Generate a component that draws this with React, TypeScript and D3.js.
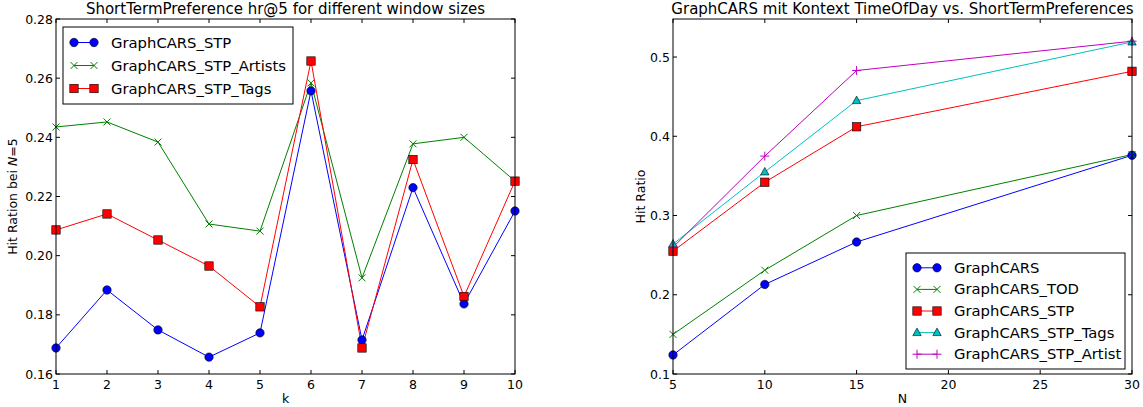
import * as d3 from 'd3';

const kValues = [1, 2, 3, 4, 5, 6, 7, 8, 9, 10];
const stp = [0.1688, 0.1884, 0.1749, 0.1657, 0.1739, 0.2557, 0.1715, 0.2230, 0.1837, 0.2151];
const stpArtists = [0.2435, 0.2452, 0.2384, 0.2107, 0.2083, 0.2584, 0.1925, 0.2378, 0.2400, 0.2252];
const stpTags = [0.2087, 0.2141, 0.2053, 0.1965, 0.1827, 0.2658, 0.1688, 0.2325, 0.1862, 0.2252];

const nValues = [5, 10, 15, 30];
const graphCars = [0.124, 0.213, 0.2666, 0.376];
const graphCarsTod = [0.150, 0.231, 0.300, 0.377];
const graphCarsStp = [0.255, 0.342, 0.412, 0.482];
const graphCarsStpTags = [0.264, 0.355, 0.445, 0.519];
const graphCarsStpArtist = [0.260, 0.375, 0.483, 0.520];

const leftXTicks = [1, 2, 3, 4, 5, 6, 7, 8, 9, 10];
const leftYTicks = [0.16, 0.18, 0.2, 0.22, 0.24, 0.26, 0.28];
const rightXTicks = [5, 10, 15, 20, 25, 30];
const rightYTicks = [0.1, 0.2, 0.3, 0.4, 0.5];

const FONT = '"DejaVu Sans", sans-serif';

type MarkerKind = 'circle' | 'x' | 'square' | 'triangle' | 'plus';

function Marker({ kind, x, y, color }: { kind: MarkerKind; x: number; y: number; color: string }) {
  if (kind === 'circle') return <circle cx={x} cy={y} r={4.2} fill={color} stroke="#000" strokeWidth={0.6} />;
  if (kind === 'square')
    return <rect x={x - 4.2} y={y - 4.2} width={8.4} height={8.4} fill={color} stroke="#000" strokeWidth={0.6} />;
  if (kind === 'triangle')
    return <path d={`M${x},${y - 4.5}L${x + 4.2},${y + 3}L${x - 4.2},${y + 3}Z`} fill={color} stroke="#000" strokeWidth={0.6} />;
  if (kind === 'x')
    return <path d={`M${x - 3.5},${y - 3.5}L${x + 3.5},${y + 3.5}M${x - 3.5},${y + 3.5}L${x + 3.5},${y - 3.5}`} stroke={color} strokeWidth={1} />;
  return <path d={`M${x - 4.5},${y}L${x + 4.5},${y}M${x},${y - 4.5}L${x},${y + 4.5}`} stroke={color} strokeWidth={1} />;
}

interface Series {
  name: string;
  values: number[];
  color: string;
  marker: MarkerKind;
}

interface PanelProps {
  x0: number;
  x1: number;
  y0: number;
  y1: number;
  xs: number[];
  xDomain: [number, number];
  yDomain: [number, number];
  xTicks: number[];
  yTicks: number[];
  yFormat: (v: number) => string;
  series: Series[];
  title: string;
  xLabel: string;
  yLabel: React.ReactNode;
  yLabelX: number;
  legend: { x: number; y: number; w: number; rowH: number };
}

function Panel(p: PanelProps) {
  const x = d3.scaleLinear().domain(p.xDomain).range([p.x0, p.x1]);
  const y = d3.scaleLinear().domain(p.yDomain).range([p.y1, p.y0]);
  const line = d3
    .line<number>()
    .x((_, i) => x(p.xs[i]))
    .y((v) => y(v));
  const tl = 4;
  const cx = (p.x0 + p.x1) / 2;
  const cy = (p.y0 + p.y1) / 2;
  const lg = p.legend;
  const lgH = lg.rowH * p.series.length + 8;

  return (
    <g fontFamily={FONT}>
      <text x={cx} y={p.y0 - 5} textAnchor="middle" fontSize={15}>
        {p.title}
      </text>
      {p.series.map((s) => (
        <path key={s.name} d={line(s.values) || ''} fill="none" stroke={s.color} strokeWidth={1} />
      ))}
      {p.series.map((s) =>
        s.values.map((v, i) => <Marker key={s.name + i} kind={s.marker} x={x(p.xs[i])} y={y(v)} color={s.color} />)
      )}
      <rect x={p.x0} y={p.y0} width={p.x1 - p.x0} height={p.y1 - p.y0} fill="none" stroke="#000" strokeWidth={1} />
      {p.xTicks.map((t) => (
        <g key={'x' + t}>
          <line x1={x(t)} x2={x(t)} y1={p.y1} y2={p.y1 - tl} stroke="#000" />
          <line x1={x(t)} x2={x(t)} y1={p.y0} y2={p.y0 + tl} stroke="#000" />
          <text x={x(t)} y={p.y1 + 15} textAnchor="middle" fontSize={12.5}>
            {t}
          </text>
        </g>
      ))}
      {p.yTicks.map((t) => (
        <g key={'y' + t}>
          <line x1={p.x0} x2={p.x0 + tl} y1={y(t)} y2={y(t)} stroke="#000" />
          <line x1={p.x1} x2={p.x1 - tl} y1={y(t)} y2={y(t)} stroke="#000" />
          <text x={p.x0 - 3} y={y(t) + 4.5} textAnchor="end" fontSize={12.5}>
            {p.yFormat(t)}
          </text>
        </g>
      ))}
      <text x={cx} y={p.y1 + 29} textAnchor="middle" fontSize={12.5}>
        {p.xLabel}
      </text>
      <text transform={`translate(${p.yLabelX},${cy}) rotate(-90)`} textAnchor="middle" fontSize={12.5}>
        {p.yLabel}
      </text>
      <rect x={lg.x} y={lg.y} width={lg.w} height={lgH} fill="#fff" stroke="#000" strokeWidth={1} />
      {p.series.map((s, i) => {
        const ry = lg.y + 4 + lg.rowH * (i + 0.5);
        return (
          <g key={'lg' + s.name}>
            <line x1={lg.x + 11} x2={lg.x + 31} y1={ry} y2={ry} stroke={s.color} />
            <Marker kind={s.marker} x={lg.x + 11} y={ry} color={s.color} />
            <Marker kind={s.marker} x={lg.x + 31} y={ry} color={s.color} />
            <text x={lg.x + 48} y={ry + 5} fontSize={14.8}>
              {s.name}
            </text>
          </g>
        );
      })}
    </g>
  );
}

export default function App() {
  const leftSeries: Series[] = [
    { name: 'GraphCARS_STP', values: stp, color: '#0000ff', marker: 'circle' },
    { name: 'GraphCARS_STP_Artists', values: stpArtists, color: '#008000', marker: 'x' },
    { name: 'GraphCARS_STP_Tags', values: stpTags, color: '#ff0000', marker: 'square' },
  ];
  const rightSeries: Series[] = [
    { name: 'GraphCARS', values: graphCars, color: '#0000ff', marker: 'circle' },
    { name: 'GraphCARS_TOD', values: graphCarsTod, color: '#008000', marker: 'x' },
    { name: 'GraphCARS_STP', values: graphCarsStp, color: '#ff0000', marker: 'square' },
    { name: 'GraphCARS_STP_Tags', values: graphCarsStpTags, color: '#00bfbf', marker: 'triangle' },
    { name: 'GraphCARS_STP_Artist', values: graphCarsStpArtist, color: '#bf00bf', marker: 'plus' },
  ];

  return (
    <svg width={1143} height={407} style={{ position: 'absolute', left: 0, top: 0, background: '#fff' }}>
      <Panel
        x0={56}
        x1={515}
        y0={19}
        y1={374}
        xs={kValues}
        xDomain={[1, 10]}
        yDomain={[0.16, 0.28]}
        xTicks={leftXTicks}
        yTicks={leftYTicks}
        yFormat={d3.format('.2f')}
        series={leftSeries}
        title="ShortTermPreference hr@5 for different window sizes"
        xLabel="k"
        yLabel={
          <>
            Hit Ration bei <tspan fontStyle="italic">N</tspan>
            <tspan>=5</tspan>
          </>
        }
        yLabelX={17}
        legend={{ x: 63, y: 27, w: 230, rowH: 23 }}
      />
      <Panel
        x0={673}
        x1={1132}
        y0={19}
        y1={374}
        xs={nValues}
        xDomain={[5, 30]}
        yDomain={[0.1, 0.548]}
        xTicks={rightXTicks}
        yTicks={rightYTicks}
        yFormat={d3.format('.1f')}
        series={rightSeries}
        title="GraphCARS mit Kontext TimeOfDay vs. ShortTermPreferences"
        xLabel="N"
        yLabel="Hit Ratio"
        yLabelX={645}
        legend={{ x: 906, y: 253, w: 219, rowH: 21.6 }}
      />
    </svg>
  );
}
